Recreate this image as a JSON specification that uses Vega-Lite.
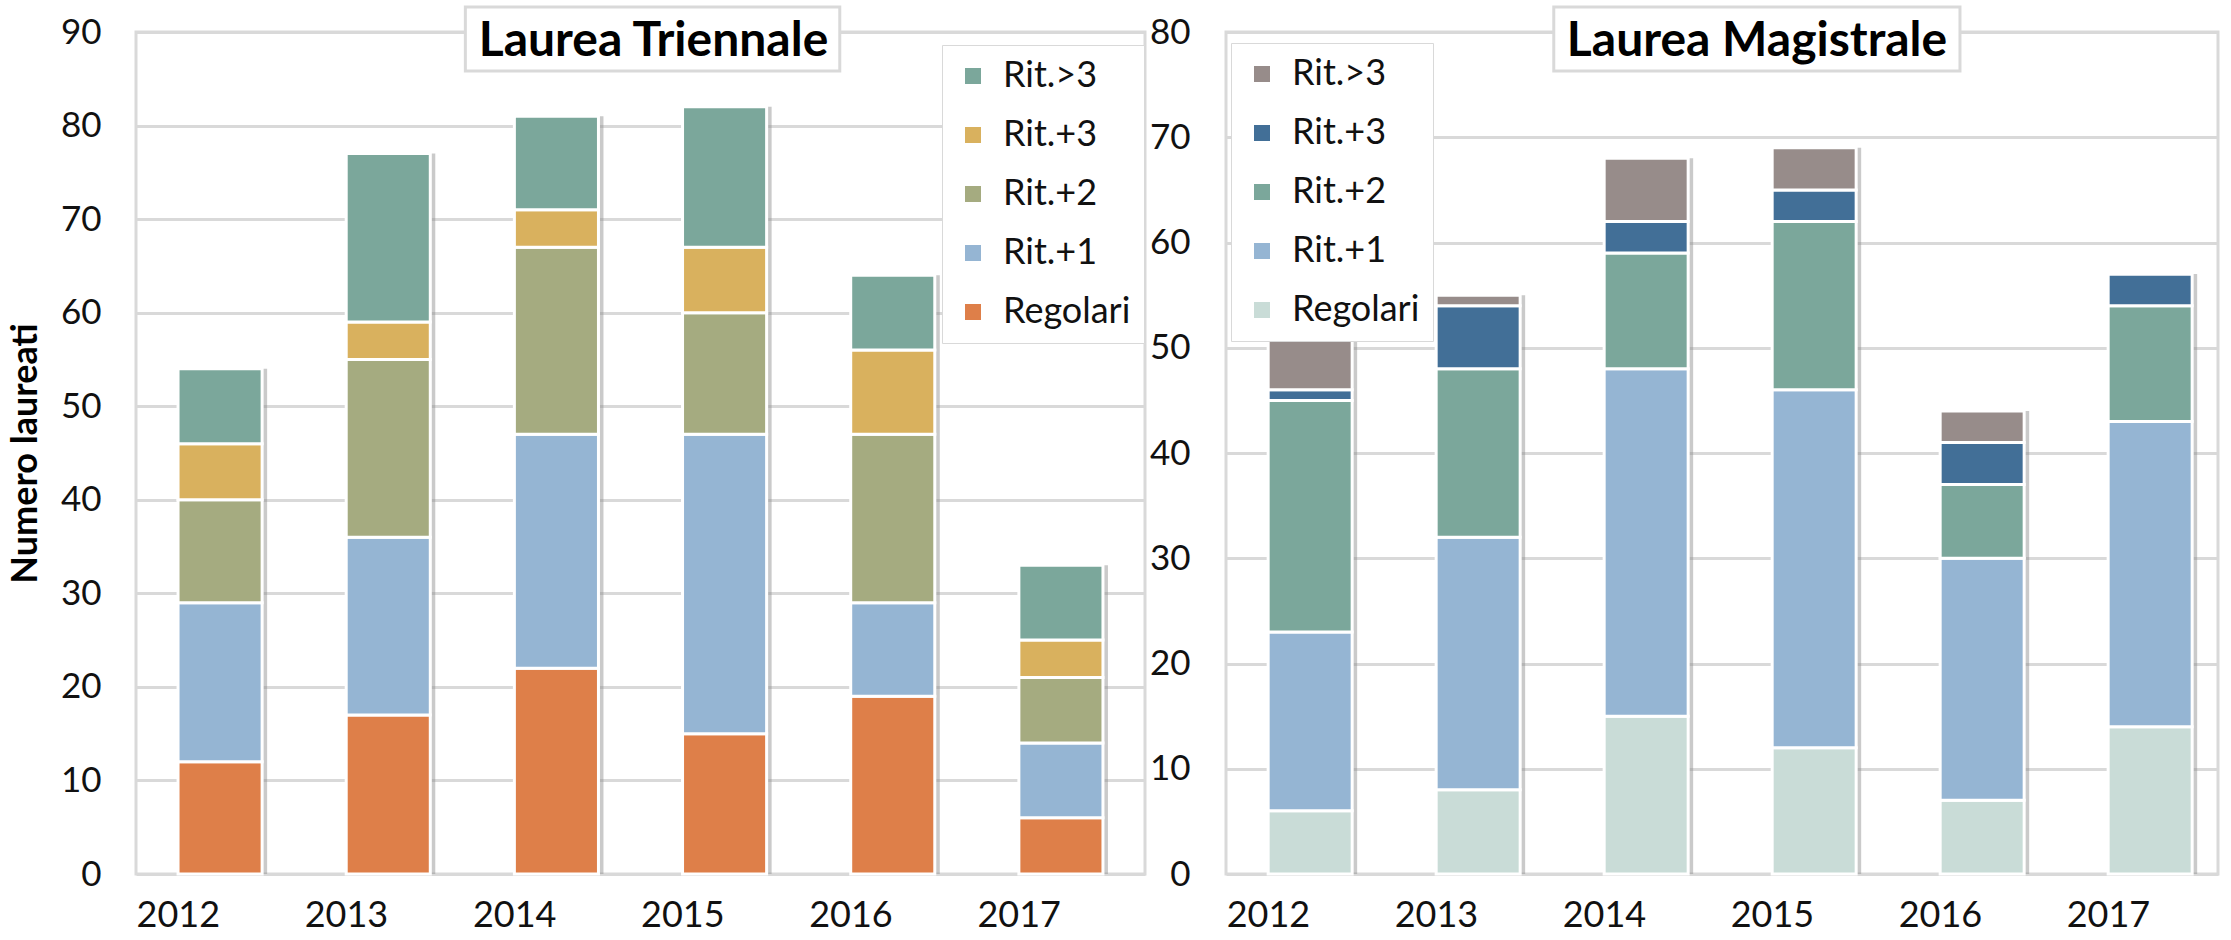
{
  "$schema": "https://vega.github.io/schema/vega-lite/v6.json",
  "padding": {"left": 5, "top": 3, "right": 0, "bottom": 0},
  "spacing": 0,
  "background": "white",
  "config": {
    "font": "Lato",
    "view": {"stroke": "#d9d9d9", "strokeWidth": 3},
    "axis": {"labelFont": "Lato", "labelColor": "#111111", "ticks": false, "domain": false, "gridColor": "#d9d9d9", "gridWidth": 3},
    "legend": {"labelFont": "Lato"}
  },
  "datasets": {
    "tri": [
      {"year": "2012", "cat": "Regolari", "value": 12},
      {"year": "2012", "cat": "Rit.+1", "value": 17},
      {"year": "2012", "cat": "Rit.+2", "value": 11},
      {"year": "2012", "cat": "Rit.+3", "value": 6},
      {"year": "2012", "cat": "Rit.>3", "value": 8},
      {"year": "2013", "cat": "Regolari", "value": 17},
      {"year": "2013", "cat": "Rit.+1", "value": 19},
      {"year": "2013", "cat": "Rit.+2", "value": 19},
      {"year": "2013", "cat": "Rit.+3", "value": 4},
      {"year": "2013", "cat": "Rit.>3", "value": 18},
      {"year": "2014", "cat": "Regolari", "value": 22},
      {"year": "2014", "cat": "Rit.+1", "value": 25},
      {"year": "2014", "cat": "Rit.+2", "value": 20},
      {"year": "2014", "cat": "Rit.+3", "value": 4},
      {"year": "2014", "cat": "Rit.>3", "value": 10},
      {"year": "2015", "cat": "Regolari", "value": 15},
      {"year": "2015", "cat": "Rit.+1", "value": 32},
      {"year": "2015", "cat": "Rit.+2", "value": 13},
      {"year": "2015", "cat": "Rit.+3", "value": 7},
      {"year": "2015", "cat": "Rit.>3", "value": 15},
      {"year": "2016", "cat": "Regolari", "value": 19},
      {"year": "2016", "cat": "Rit.+1", "value": 10},
      {"year": "2016", "cat": "Rit.+2", "value": 18},
      {"year": "2016", "cat": "Rit.+3", "value": 9},
      {"year": "2016", "cat": "Rit.>3", "value": 8},
      {"year": "2017", "cat": "Regolari", "value": 6},
      {"year": "2017", "cat": "Rit.+1", "value": 8},
      {"year": "2017", "cat": "Rit.+2", "value": 7},
      {"year": "2017", "cat": "Rit.+3", "value": 4},
      {"year": "2017", "cat": "Rit.>3", "value": 8}
    ],
    "mag": [
      {"year": "2012", "cat": "Regolari", "value": 6},
      {"year": "2012", "cat": "Rit.+1", "value": 17},
      {"year": "2012", "cat": "Rit.+2", "value": 22},
      {"year": "2012", "cat": "Rit.+3", "value": 1},
      {"year": "2012", "cat": "Rit.>3", "value": 5},
      {"year": "2013", "cat": "Regolari", "value": 8},
      {"year": "2013", "cat": "Rit.+1", "value": 24},
      {"year": "2013", "cat": "Rit.+2", "value": 16},
      {"year": "2013", "cat": "Rit.+3", "value": 6},
      {"year": "2013", "cat": "Rit.>3", "value": 1},
      {"year": "2014", "cat": "Regolari", "value": 15},
      {"year": "2014", "cat": "Rit.+1", "value": 33},
      {"year": "2014", "cat": "Rit.+2", "value": 11},
      {"year": "2014", "cat": "Rit.+3", "value": 3},
      {"year": "2014", "cat": "Rit.>3", "value": 6},
      {"year": "2015", "cat": "Regolari", "value": 12},
      {"year": "2015", "cat": "Rit.+1", "value": 34},
      {"year": "2015", "cat": "Rit.+2", "value": 16},
      {"year": "2015", "cat": "Rit.+3", "value": 3},
      {"year": "2015", "cat": "Rit.>3", "value": 4},
      {"year": "2016", "cat": "Regolari", "value": 7},
      {"year": "2016", "cat": "Rit.+1", "value": 23},
      {"year": "2016", "cat": "Rit.+2", "value": 7},
      {"year": "2016", "cat": "Rit.+3", "value": 4},
      {"year": "2016", "cat": "Rit.>3", "value": 3},
      {"year": "2017", "cat": "Regolari", "value": 14},
      {"year": "2017", "cat": "Rit.+1", "value": 29},
      {"year": "2017", "cat": "Rit.+2", "value": 11},
      {"year": "2017", "cat": "Rit.+3", "value": 3},
      {"year": "2017", "cat": "Rit.>3", "value": 0}
    ]
  },
  "hconcat": [
    {
      "width": 1009,
      "height": 842,
      "data": {"name": "tri"},
      "layer": [
        {
          "mark": {"type": "bar", "color": "#8a8a8a", "opacity": 0.45, "xOffset": 5},
          "encoding": {
            "x": {"field": "year", "type": "nominal", "scale": {"paddingInner": 0.5, "paddingOuter": 0.25}},
            "y": {"aggregate": "sum", "field": "value", "type": "quantitative"}
          }
        },
        {
          "mark": {"type": "bar", "stroke": "white", "strokeWidth": 3},
          "encoding": {
            "x": {"field": "year", "type": "nominal", "title": null, "scale": {"paddingInner": 0.5, "paddingOuter": 0.25},
              "axis": {"labelAngle": 0, "labelFontSize": 36, "labelPadding": 41}},
            "y": {"field": "value", "type": "quantitative", "stack": "zero",
              "scale": {"domain": [0, 90], "nice": false},
              "axis": {"values": [0,10,20,30,40,50,60,70,80,90], "labelFontSize": 35, "labelPadding": 35, "title": "Numero laureati", "titleFontSize": 36, "titleFont": "Lato", "titleFontWeight": "bold", "titleColor": "#000000", "titlePadding": 16}},
            "color": {"field": "cat", "type": "nominal",
              "scale": {"domain": ["Rit.>3", "Rit.+3", "Rit.+2", "Rit.+1", "Regolari"], "range": ["#7ba79b", "#d9b15e", "#a5ab80", "#95b5d3", "#de7f49"]},
              "legend": {"orient": "none", "legendX": 806, "legendY": 13, "title": null, "symbolType": "square", "symbolSize": 256, "symbolStrokeWidth": 0, "labelFontSize": 36, "labelColor": "#111111", "labelOffset": 12, "rowPadding": 23, "padding": 13, "strokeColor": "#d9d9d9", "fillColor": "white"}},
            "order": {"field": "cat", "type": "nominal", "sort": "ascending"}
          }
        },
        {
          "data": {"values": [{"t": "Laurea Triennale"}]},
          "mark": {"type": "rect", "color": "#7f7f7f", "opacity": 0.35, "xOffset": 6, "yOffset": 7},
          "encoding": {
            "x": {"datum": "2013", "type": "nominal", "bandPosition": 1.417},
            "x2": {"datum": "2015", "bandPosition": 1.87},
            "y": {"datum": 92.67, "type": "quantitative"},
            "y2": {"datum": 85.83}
          }
        },
        {
          "data": {"values": [{"t": "Laurea Triennale"}]},
          "mark": {"type": "rect", "fill": "white", "stroke": "#d9d9d9", "strokeWidth": 3},
          "encoding": {
            "x": {"datum": "2013", "type": "nominal", "bandPosition": 1.417},
            "x2": {"datum": "2015", "bandPosition": 1.87},
            "y": {"datum": 92.67, "type": "quantitative"},
            "y2": {"datum": 85.83}
          }
        },
        {
          "data": {"values": [{"t": "Laurea Triennale"}]},
          "mark": {"type": "text", "fontSize": 48, "fontWeight": "bold", "font": "Lato", "color": "#000000", "baseline": "alphabetic", "align": "center", "dx": 13},
          "encoding": {
            "text": {"field": "t", "type": "nominal"},
            "y": {"datum": 87.4, "type": "quantitative"}
          }
        }
      ]
    },
    {
      "width": 992,
      "height": 842,
      "data": {"name": "mag"},
      "layer": [
        {
          "mark": {"type": "bar", "color": "#8a8a8a", "opacity": 0.45, "xOffset": 5},
          "encoding": {
            "x": {"field": "year", "type": "nominal", "scale": {"paddingInner": 0.5, "paddingOuter": 0.2024, "align": 0.62}},
            "y": {"aggregate": "sum", "field": "value", "type": "quantitative"}
          }
        },
        {
          "mark": {"type": "bar", "stroke": "white", "strokeWidth": 3},
          "encoding": {
            "x": {"field": "year", "type": "nominal", "title": null, "scale": {"paddingInner": 0.5, "paddingOuter": 0.2024, "align": 0.62},
              "axis": {"labelAngle": 0, "labelFontSize": 36, "labelPadding": 41}},
            "y": {"field": "value", "type": "quantitative", "stack": "zero",
              "scale": {"domain": [0, 80], "nice": false},
              "axis": {"values": [0,10,20,30,40,50,60,70,80], "labelFontSize": 35, "labelPadding": 36, "title": null}},
            "color": {"field": "cat", "type": "nominal",
              "scale": {"domain": ["Rit.>3", "Rit.+3", "Rit.+2", "Rit.+1", "Regolari"], "range": ["#978c8a", "#426f97", "#7ba79b", "#95b5d3", "#c9dcd7"]},
              "legend": {"orient": "none", "legendX": 5, "legendY": 11, "title": null, "symbolType": "square", "symbolSize": 256, "symbolStrokeWidth": 0, "labelFontSize": 36, "labelColor": "#111111", "labelOffset": 12, "rowPadding": 23, "padding": 13, "strokeColor": "#d9d9d9", "fillColor": "white"}},
            "order": {"field": "cat", "type": "nominal", "sort": "ascending"}
          }
        },
        {
          "data": {"values": [{"t": "Laurea Magistrale"}]},
          "mark": {"type": "rect", "color": "#7f7f7f", "opacity": 0.35, "xOffset": 6, "yOffset": 7},
          "encoding": {
            "x": {"datum": "2013", "type": "nominal", "bandPosition": 1.40},
            "x2": {"datum": "2015", "bandPosition": 2.236},
            "y": {"datum": 82.38, "type": "quantitative"},
            "y2": {"datum": 76.29}
          }
        },
        {
          "data": {"values": [{"t": "Laurea Magistrale"}]},
          "mark": {"type": "rect", "fill": "white", "stroke": "#d9d9d9", "strokeWidth": 3},
          "encoding": {
            "x": {"datum": "2013", "type": "nominal", "bandPosition": 1.40},
            "x2": {"datum": "2015", "bandPosition": 2.236},
            "y": {"datum": 82.38, "type": "quantitative"},
            "y2": {"datum": 76.29}
          }
        },
        {
          "data": {"values": [{"t": "Laurea Magistrale"}]},
          "mark": {"type": "text", "fontSize": 48, "fontWeight": "bold", "font": "Lato", "color": "#000000", "baseline": "alphabetic", "align": "center", "dx": 35},
          "encoding": {
            "text": {"field": "t", "type": "nominal"},
            "y": {"datum": 77.7, "type": "quantitative"}
          }
        }
      ]
    }
  ],
  "resolve": {"scale": {"color": "independent", "y": "independent"}}
}
